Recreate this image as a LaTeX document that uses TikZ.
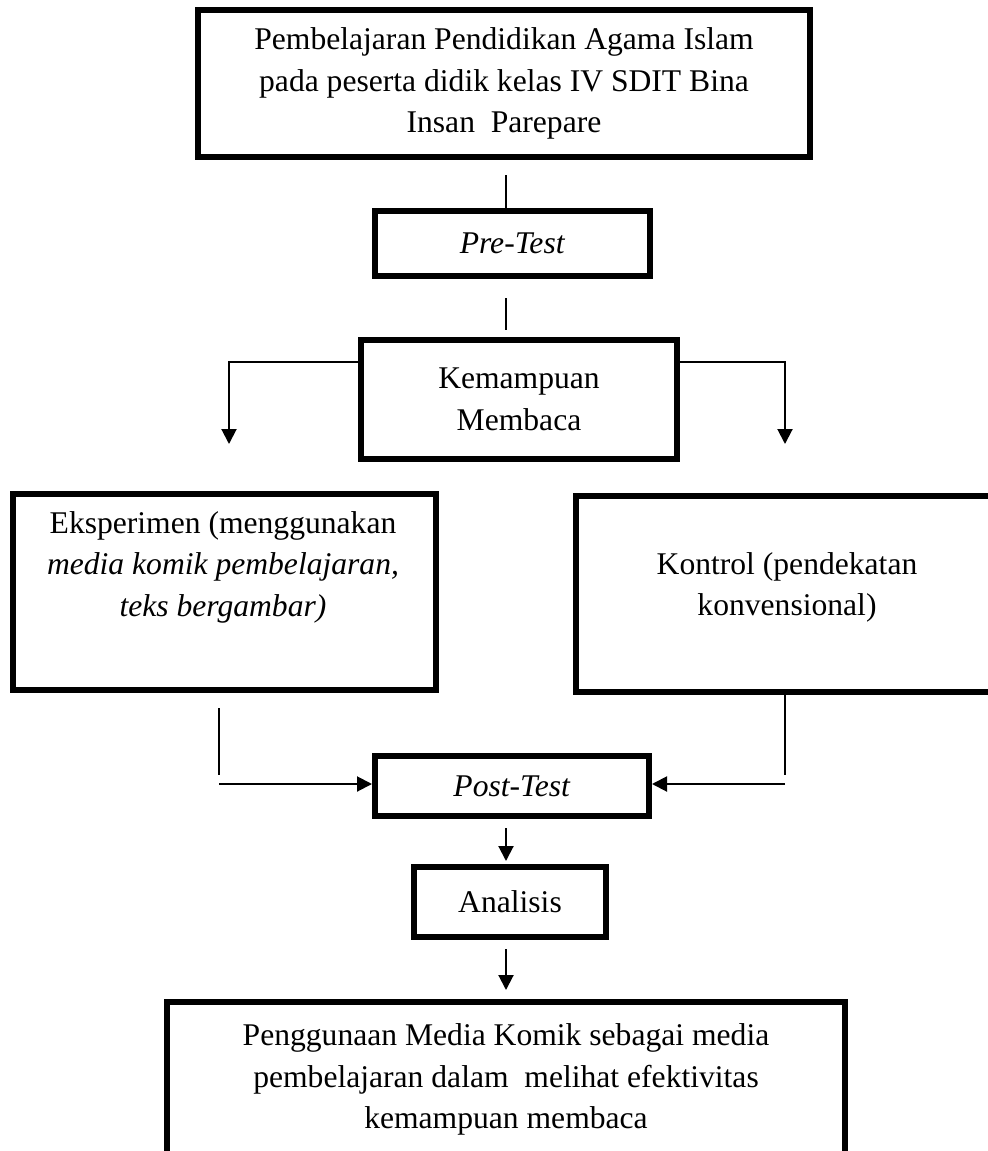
\documentclass[tikz,border=0pt]{standalone}
\usepackage{fontspec}
\setmainfont{Liberation Serif}
\usetikzlibrary{arrows.meta}

\tikzset{
  box/.style={draw, line width=3pt, inner sep=0pt, align=center, font=\fontsize{15.8}{20.8}\selectfont},
  txt/.style={inner sep=0pt, align=center, font=\fontsize{15.8}{20.8}\selectfont},
  link/.style={line width=1pt},
  arrow/.style={line width=1pt, -{Triangle[length=7.5pt,width=7.5pt]}}
}

\begin{document}
\begin{tikzpicture}[x=0.5pt, y=-0.5pt]
\useasboundingbox (0,0) rectangle (988,1151);
\clip (0,0) rectangle (988,1151);
\fill [white] (0,0) rectangle (988,1151);

\node [box, minimum width=306pt, minimum height=73.5pt] (top) at (504,83.5) {Pembelajaran Pendidikan Agama Islam\\pada peserta didik kelas IV SDIT Bina\\Insan \ Parepare};
\node [box, minimum width=137.5pt, minimum height=32.5pt] (pre) at (512.5,243.5) {\textit{Pre-Test}};
\node [box, minimum width=158pt, minimum height=59.5pt] (kem) at (519,399.5) {Kemampuan\\Membaca};
\node [box, minimum width=211.5pt, minimum height=98pt] (eks) at (224.5,592) {};
\node [txt, anchor=north] (ekstxt) at (223,511) {Eksperimen (menggunakan\\\textit{media komik pembelajaran,}\\\textit{teks bergambar)}};
\node [box, minimum width=211pt, minimum height=98pt] (kon) at (787,594) {};
\node [txt, anchor=north] (kontxt) at (787,552) {Kontrol (pendekatan\\konvensional)};
\node [box, minimum width=137pt, minimum height=30pt] (post) at (512,786) {\textit{Post-Test}};
\node [box, minimum width=96pt, minimum height=35pt] (ana) at (510,902) {Analisis};
\node [box, minimum width=339pt, minimum height=77.5pt] (fin) at (506,1079.5) {Penggunaan Media Komik sebagai media\\pembelajaran dalam \ melihat efektivitas\\kemampuan membaca};

\coordinate (axis) at (506,0);
\coordinate (lturn) at (229,362);
\coordinate (ltip) at (229,444);
\coordinate (rturn) at (785,362);
\coordinate (rtip) at (785,444);
\coordinate (ltop) at (219,708);
\coordinate (lfoot) at (219,775);
\coordinate (lin) at (219,784);
\coordinate (rfoot) at (785,775);
\coordinate (rin) at (785,784);

\draw [link, shorten <=7.5pt] (top.south -| axis) -- (pre.north -| axis);
\draw [link, shorten <=9.5pt, shorten >=3.5pt] (pre.south -| axis) -- (kem.north -| axis);
\draw [arrow] (lturn -| kem.west) -- (lturn) -- (ltip);
\draw [arrow] (rturn -| kem.east) -- (rturn) -- (rtip);
\draw [link] (ltop) -- (lfoot);
\draw [arrow] (lin) -- (lin -| post.west);
\draw [link] (kon.south -| rfoot) -- (rfoot);
\draw [arrow] (rin) -- (rin -| post.east);
\draw [arrow, shorten <=4.5pt, shorten >=1.5pt] (post.south -| axis) -- (ana.north -| axis);
\draw [arrow, shorten <=4.5pt, shorten >=4.5pt] (ana.south -| axis) -- (fin.north -| axis);
\end{tikzpicture}
\end{document}
